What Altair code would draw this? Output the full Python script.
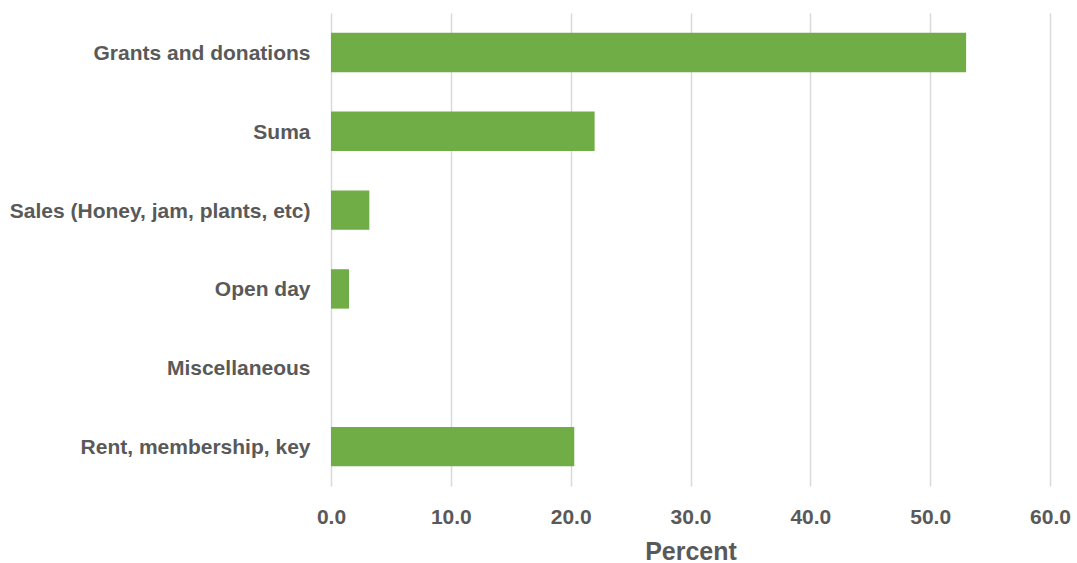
import altair as alt
import pandas as pd

# Income sources and their share of total income (%)
categories = [
    "Grants and donations",
    "Suma",
    "Sales (Honey, jam, plants, etc)",
    "Open day",
    "Miscellaneous",
    "Rent, membership, key",
]
percents = [53.0, 22.0, 3.2, 1.5, 0.0, 20.3]

df = pd.DataFrame({"source": categories, "percent": percents})

text_color = "#595959"

bars = (
    alt.Chart(df)
    .mark_bar(color="#70AD47")
    .encode(
        x=alt.X(
            "percent:Q",
            title="Percent",
            scale=alt.Scale(domain=[0, 60], nice=False),
            axis=alt.Axis(
                values=[0, 10, 20, 30, 40, 50, 60],
                format=".1f",
                grid=True,
                gridColor="#D9D9D9",
                gridWidth=1.5,
                domain=False,
                ticks=False,
                labelFont="Liberation Sans",
                labelFontWeight="bold",
                labelFontSize=21,
                labelColor=text_color,
                labelPadding=20,
                labelFlush=False,
                titleFont="Liberation Sans",
                titleFontWeight="bold",
                titleFontSize=25,
                titleColor=text_color,
                titlePadding=12,
            ),
        ),
        y=alt.Y(
            "source:N",
            sort=categories,
            title=None,
            scale=alt.Scale(paddingInner=0.5, paddingOuter=0.25),
            axis=alt.Axis(
                domain=False,
                ticks=False,
                grid=False,
                labelFont="Liberation Sans",
                labelFontWeight="bold",
                labelFontSize=21,
                labelColor=text_color,
                labelPadding=21,
                labelOffset=1.5,
                labelLimit=400,
            ),
        ),
    )
)

chart = (
    bars.properties(
        width=719,
        height=473,
        padding={"left": 331, "top": 13, "right": 27, "bottom": 77},
        autosize=alt.AutoSizeParams(type="none"),
        background="white",
    )
    .configure_view(stroke=None)
)

chart.save("out.html", embed_options={"renderer": "svg", "actions": False})
